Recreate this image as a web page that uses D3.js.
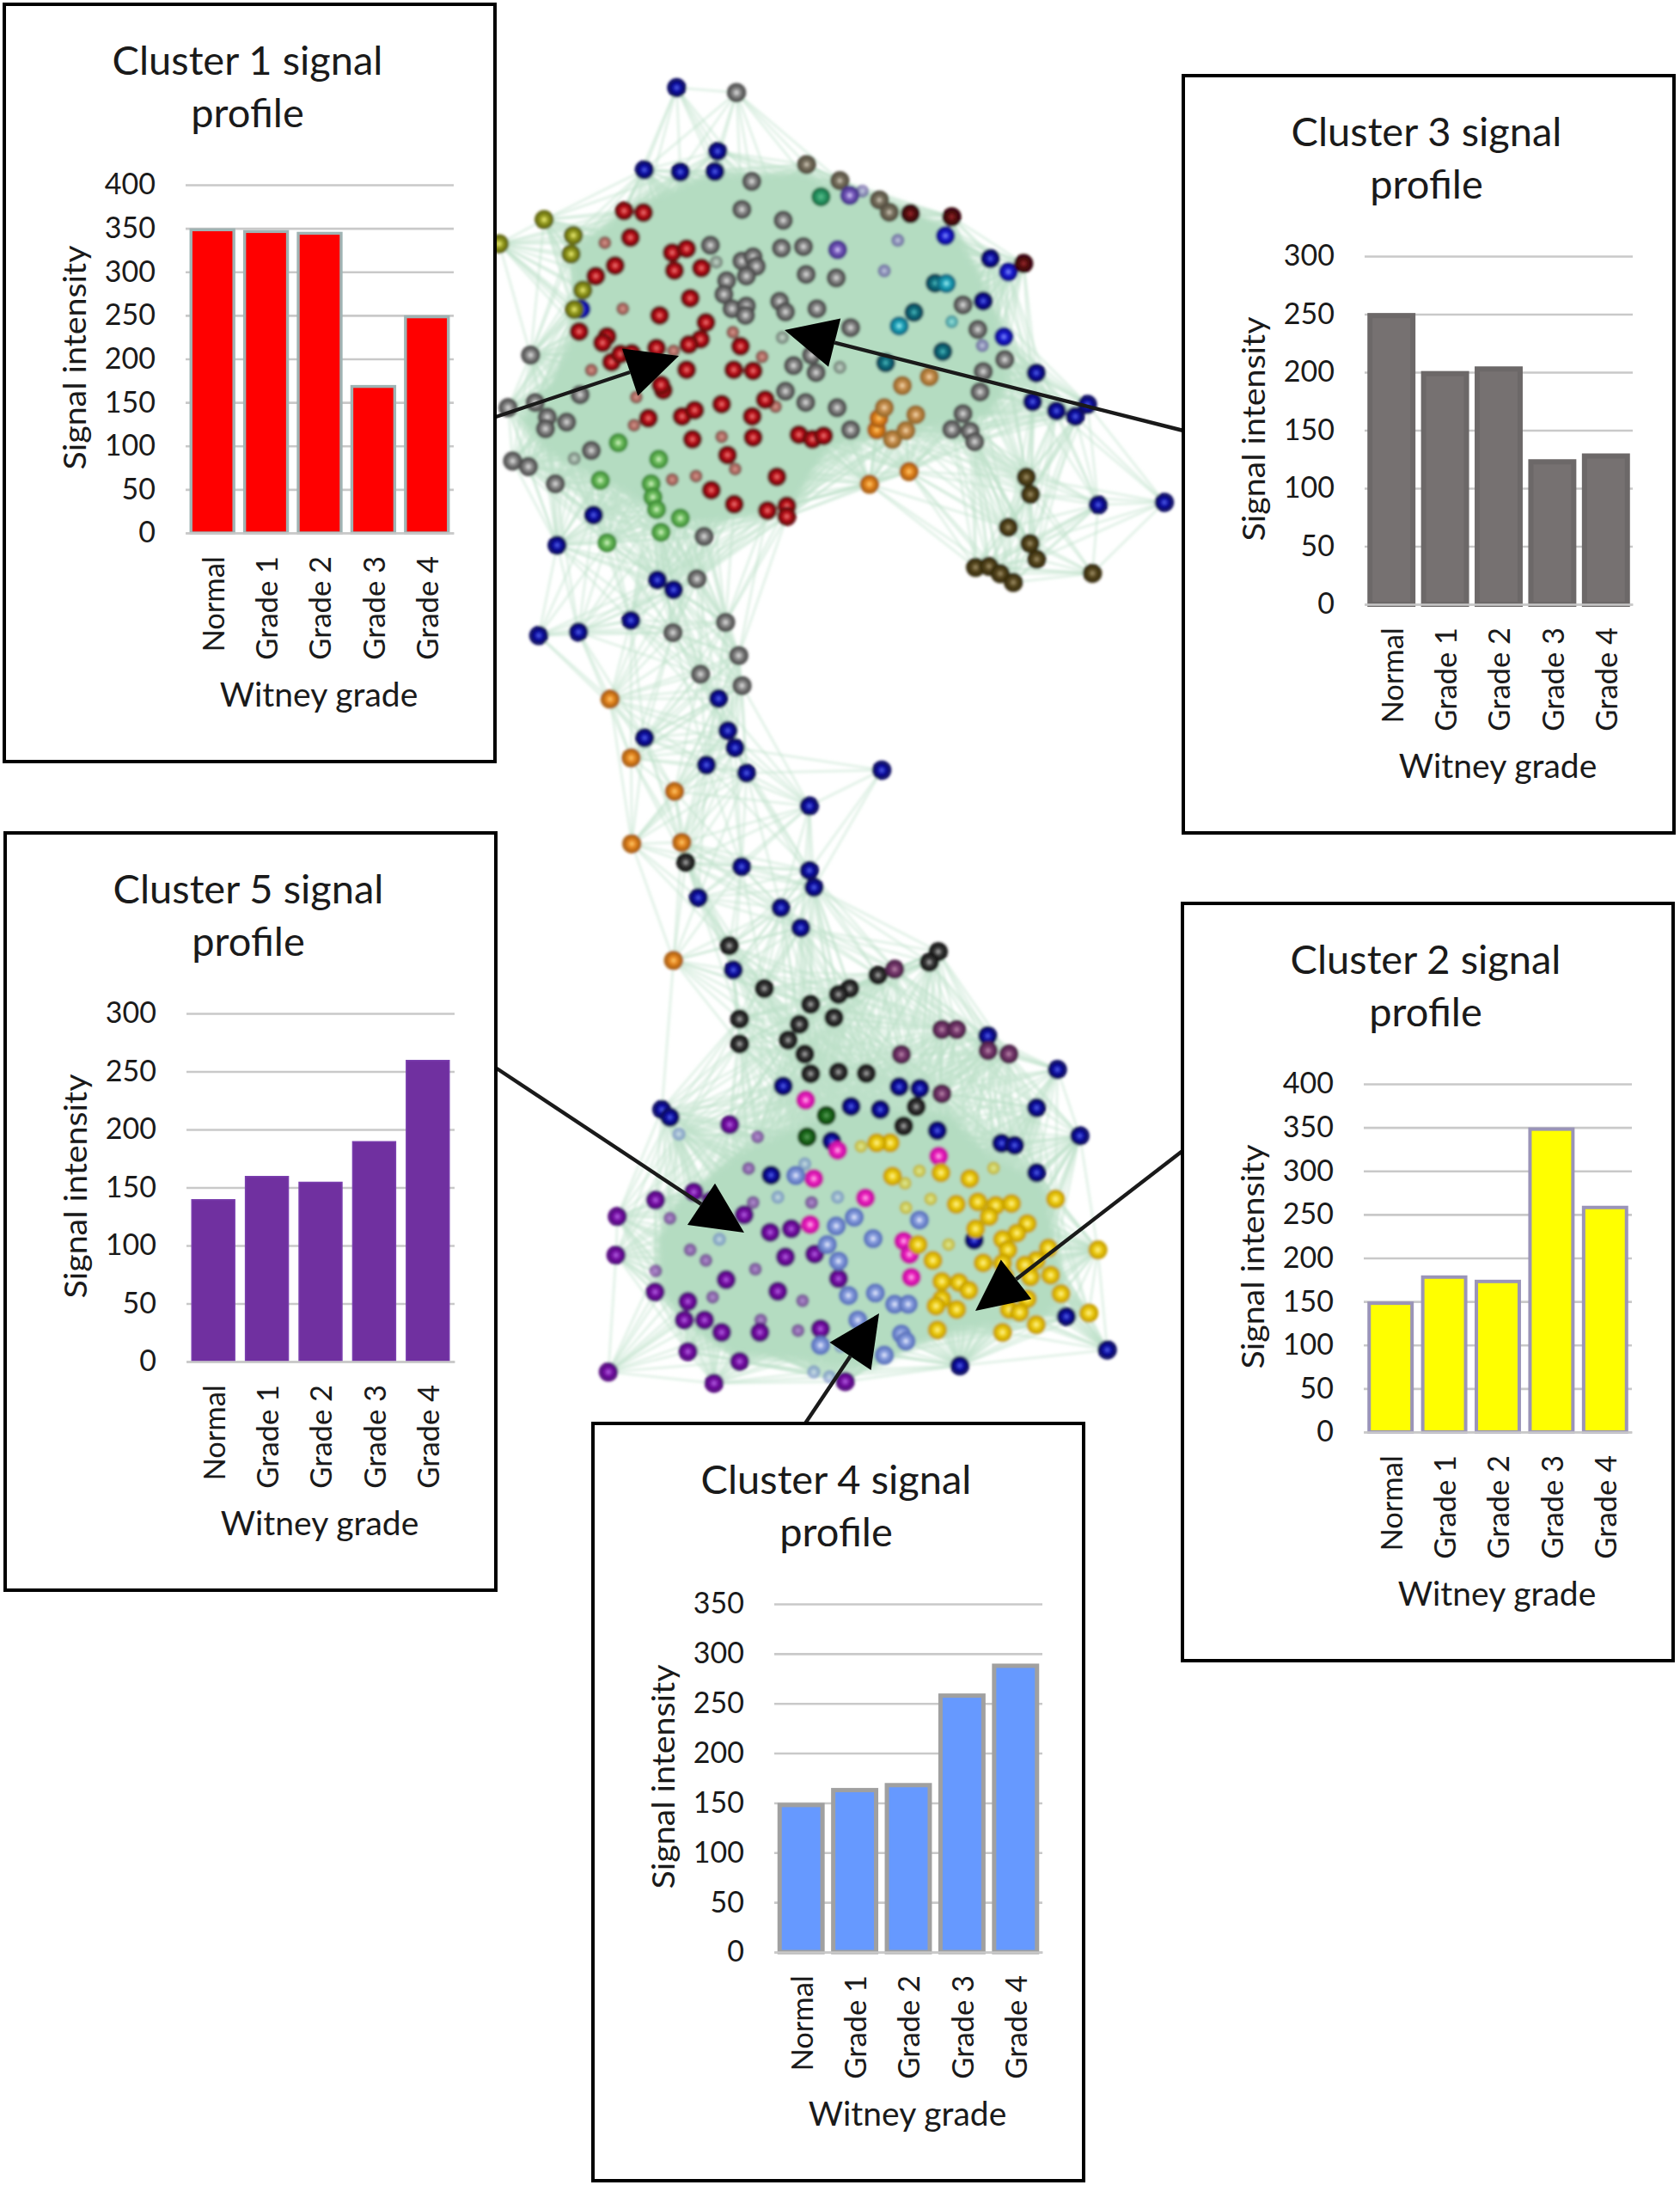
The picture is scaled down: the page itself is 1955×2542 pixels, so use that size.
<!DOCTYPE html>
<html>
<head>
<meta charset="utf-8">
<script src="https://cdn.jsdelivr.net/npm/d3@7"></script>
<style>
  body { margin: 0; background: #fff; }
  text { font-family: Lato, "Open Sans", sans-serif; fill: #1a1a1a; }
</style>
</head>
<body>
<div id="fig"></div>
<script>
// ---- bar chart values
var grades = ["Normal", "Grade 1", "Grade 2", "Grade 3", "Grade 4"];
var cluster1 = [350, 348, 346, 170, 250];
var cluster2 = [150, 180, 175, 350, 260];
var cluster3 = [251, 201, 205, 125, 130];
var cluster4 = [150, 165, 170, 260, 290];
var cluster5 = [140, 160, 155, 190, 260];
var ticks300 = [0, 50, 100, 150, 200, 250, 300];
var ticks350 = [0, 50, 100, 150, 200, 250, 300, 350];
var ticks400 = [0, 50, 100, 150, 200, 250, 300, 350, 400];

// ---- network nodes, in layout units of each part of the network
var upperNavy = [[435,103],[363,337],[443,343],[520,342],[526,284],[1133,590],[1117,711],[1235,916],[1227,998],[1280,1024],[1322,1040],[1349,1006],[1373,1292],[1520,1285],[250,1321],[169,1407],[392,1506],[428,1534]];
var upperBlue = [[222,734],[1033,525],[1173,628],[1163,813]];
var upperGray = [[568,117],[602,370],[580,450],[672,481],[510,552],[668,560],[717,556],[580,597],[605,585],[612,612],[590,640],[546,653],[723,635],[790,645],[540,692],[558,733],[590,725],[588,752],[664,712],[677,742],[747,733],[822,787],[735,865],[695,895],[745,915],[677,968],[722,1000],[792,1015],[822,1078],[1072,722],[1105,792],[1165,878],[1117,912],[1110,970],[1072,1032],[1047,1077],[1088,1082],[1098,1112],[110,865],[220,978],[120,1000],[60,1015],[147,1042],[143,1075],[190,1056],[245,1137],[70,1167],[105,1183],[165,1232],[496,1382],[480,1503]];
var upperGrayFaint = [[523,600],[670,815],[798,900],[207,1160]];
var upperTaupe = [[724,322],[798,368],[886,423],[908,458]];
var upperMaroon = [[1047,471],[1207,604],[955,462]];
var upperLilac = [[820,410],[793,565]];
var upperLilacFaint = [[927,538],[897,625],[848,398],[1115,838]];
var upperGreen = [[756,414]];
var upperOlive = [[140,479],[40,548],[205,524],[200,577],[226,680],[207,735]];
var upperTeal = [[1010,660],[963,743],[900,887],[1027,855]];
var upperCyan = [[1035,661],[930,782]];
var upperCyanFaint = [[1047,770]];
var upperRed = [[318,454],[361,459],[332,530],[425,573],[457,562],[298,610],[255,640],[430,624],[490,617],[465,703],[397,752],[500,772],[218,798],[280,812],[270,830],[390,845],[488,820],[462,835],[290,885],[310,862],[335,860],[457,907],[577,840],[562,907],[605,910],[405,965],[400,950],[372,1045],[447,1040],[475,1022],[535,1005],[632,992],[603,1040],[470,1105],[605,1100],[707,1092],[737,1105],[762,1095],[548,1150],[658,1212],[512,1250],[563,1290],[637,1308],[680,1295],[680,1325]];
var upperRedFaint = [[275,545],[428,853],[655,1012],[535,1098],[560,800],[625,870],[565,1190],[340,1065],[345,985],[245,908],[315,733],[478,1210],[425,1220]];
var upperOrange = [[864,1233],[952,1197],[880,1078],[885,1045]];
var upperTan = [[897,1015],[937,952],[997,927],[915,1105],[945,1080],[967,1035]];
var upperLightGreen = [[305,1115],[395,1162],[265,1222],[378,1232],[382,1270],[390,1305],[443,1330],[400,1370],[280,1400]];
var upperBrown = [[1213,1213],[1222,1262],[1173,1356],[1221,1402],[1236,1447],[1100,1470],[1130,1467],[1155,1488],[1184,1513],[1360,1487]];

var neckNavy = [[455,245],[296,286],[175,298],[722,518],[497,655],[750,630],[772,690],[685,750],[807,778],[998,893],[1218,768],[792,1105],[998,1118],[1012,1177],[660,1213]];
var neckGray = [[743,252],[583,288],[783,368],[667,433],[793,473]];
var neckOrange = [[392,520],[456,725],[588,842],[458,1025],[610,1020]];
var neckDark = [[622,1090]];

var lowerNavy = [[667,15],[711,72],[561,192],[672,523],[930,525],[976,530],[823,581],[888,590],[1015,650],[1282,476],[1236,585],[1332,665],[1158,686],[1187,692],[1236,770],[645,777],[402,590],[420,612],[780,680],[1127,380],[1097,962],[1302,1180],[1393,1275],[1065,1320]];
var lowerDark = [[552,123],[630,245],[1017,140],[997,170],[883,207],[820,245],[795,262],[733,290],[785,328],[708,347],[575,332],[683,392],[575,403],[733,488],[795,483],[857,487],[968,582],[940,637],[720,432]];
var lowerGreen = [[768,607],[725,668]];
var lowerPlum = [[920,190],[1025,362],[1058,362],[1128,422],[1174,432],[935,433],[1025,545]];
var lowerOrange = [[428,165]];
var lowerMagenta = [[722,563],[793,706],[1018,723],[740,787],[855,842],[732,918],[940,965],[953,1003],[957,1068]];
var lowerYellow = [[910,685],[880,685],[915,780],[1023,770],[1087,787],[1278,845],[1057,860],[1105,853],[1145,863],[1180,858],[1215,915],[1192,942],[1130,895],[1100,930],[1160,960],[1172,990],[1372,990],[1262,985],[1235,1020],[1210,1033],[1160,1028],[1117,1027],[1005,1020],[972,975],[1165,1065],[1222,1067],[1267,1062],[1290,1115],[1215,1130],[1025,1080],[1063,1083],[1085,1105],[1025,1130],[1012,1150],[1058,1160],[1175,1160],[1198,1168],[1235,1203],[1352,1170],[1160,1225],[1015,1218]];
var lowerYellowFaint = [[845,695],[943,800],[1140,757],[975,765],[945,870],[1000,845],[1040,975]];
var lowerPurple = [[388,848],[473,825],[512,850],[303,895],[300,1005],[553,633],[585,890],[643,940],[690,930],[677,1010],[742,1002],[387,1110],[545,1075],[795,1072],[660,1108],[460,1137],[452,1190],[497,1190],[535,1225],[620,1225],[755,1215],[460,1280],[575,1308],[283,1338],[518,1370],[810,1365]];
var lowerPurpleFaint = [[615,668],[595,758],[388,1050],[500,1020],[622,1190],[610,1045],[705,1220],[715,1135],[515,1125],[735,855],[605,855],[420,900],[465,990]];
var lowerPeri = [[700,778],[830,897],[790,922],[975,905],[872,958],[770,975],[795,1022],[817,1120],[877,1113],[920,1145],[950,1145],[838,1190],[935,1230],[945,1250],[755,1262],[897,1290]];
var lowerPeriFaint = [[720,745],[793,840],[740,1338],[775,1352],[800,1265],[440,660],[530,960],[660,840]];

// dense part of the two lobes
var upperCore = [[200,560],[330,440],[500,350],[700,340],[900,420],[1050,500],[1100,600],[1150,750],[1180,950],[1130,1040],[950,1080],[780,1130],[730,1220],[690,1300],[540,1340],[430,1340],[300,1240],[150,1150],[80,1050],[150,950],[210,800]];
var lowerCore = [[430,860],[560,720],[700,640],[820,590],[1040,600],[1130,720],[1250,800],[1280,980],[1300,1100],[1260,1180],[1050,1220],[970,1260],[870,1330],[740,1310],[560,1290],[470,1220],[400,1110],[390,960]];

// arrows, tail then tip
var arrow1 = [[577,485],[790,414]];
var arrow2 = [[1376,1339],[1135,1525]];
var arrow3 = [[1377,501],[913,384]];
var arrow4 = [[937,1656],[1023,1528]];
var arrow5 = [[578,1243],[866,1434]];

var width = 1955, height = 2542;
var svg = d3.select("#fig").append("svg")
    .attr("width", width).attr("height", height)
    .style("display", "block");
var defs = svg.append("defs");

defs.append("filter").attr("id", "soft").attr("x", "-5%").attr("y", "-5%").attr("width", "110%").attr("height", "110%")
  .append("feGaussianBlur").attr("stdDeviation", 1.4);
defs.append("filter").attr("id", "softer").attr("x", "-10%").attr("y", "-10%").attr("width", "120%").attr("height", "120%")
  .append("feGaussianBlur").attr("stdDeviation", 4);

// sphere colours: core, body, rim
var spheres = {
  navy: ["#5a6af0", "#0c0ca8", "#060658"],
  blue: ["#8a9aff", "#1a1ad8", "#0c0c88"],
  gray: ["#e8e8e8", "#8e8e8e", "#4a4a4a"],
  dark: ["#b8b8b8", "#3a3a3a", "#141414"],
  taupe: ["#d8d0c0", "#7a7260", "#544e40"],
  maroon: ["#a03030", "#5a0a10", "#320408"],
  lilac: ["#e0d8ff", "#7a5cc0", "#46328a"],
  green: ["#60c090", "#2e9e6a", "#187046"],
  olive: ["#f4f480", "#9aa020", "#5e640c"],
  teal: ["#50c0c0", "#0f6f80", "#084656"],
  cyan: ["#a8f4f4", "#20a8c0", "#0c6e84"],
  red: ["#f08080", "#c01018", "#62080c"],
  orange: ["#ffd070", "#e88820", "#a85c10"],
  tan: ["#f8e0b8", "#c89050", "#966828"],
  lightgreen: ["#e0fad0", "#70c060", "#3e8e36"],
  brown: ["#a89870", "#5a4a20", "#342a0c"],
  dkgreen: ["#60a060", "#1f6f1f", "#0c440c"],
  plum: ["#c090b0", "#7a3a70", "#4c2048"],
  magenta: ["#ffc0f4", "#f020c0", "#c010a0"],
  yellow: ["#fff7a0", "#f0d010", "#c8a000"],
  purple: ["#b868e8", "#7a10a8", "#4e0678"],
  peri: ["#f2f4ff", "#8aa0e0", "#5a72bc"]
};
Object.keys(spheres).forEach(function(k) {
  var g = defs.append("radialGradient").attr("id", "sph-" + k);
  g.append("stop").attr("offset", "0%").attr("stop-color", spheres[k][0]);
  g.append("stop").attr("offset", "36%").attr("stop-color", spheres[k][1]);
  g.append("stop").attr("offset", "84%").attr("stop-color", spheres[k][2]);
  g.append("stop").attr("offset", "100%").attr("stop-color", spheres[k][2]).attr("stop-opacity", 0.6);
});

// ---- network
var upperX = d3.scaleLinear([0, 1568], [560, 1380]), upperY = d3.scaleLinear([0, 1568], [60, 700]);
var neckX = d3.scaleLinear([0, 1568], [560, 1160]), neckY = d3.scaleLinear([0, 1500], [640, 1140]);
var lowerX = d3.scaleLinear([0, 1568], [560, 1380]), lowerY = d3.scaleLinear([0, 1568], [1050, 1690]);

var nodeTable = [
  [upperNavy, "navy", 0], [upperBlue, "blue", 0], [upperGray, "gray", 0], [upperGrayFaint, "gray", 1],
  [upperTaupe, "taupe", 0], [upperMaroon, "maroon", 0], [upperLilac, "lilac", 0], [upperLilacFaint, "lilac", 1],
  [upperGreen, "green", 0], [upperOlive, "olive", 0], [upperTeal, "teal", 0], [upperCyan, "cyan", 0],
  [upperCyanFaint, "cyan", 1], [upperRed, "red", 0], [upperRedFaint, "red", 1], [upperOrange, "orange", 0],
  [upperTan, "tan", 0], [upperLightGreen, "lightgreen", 0], [upperBrown, "brown", 0]
].map(function(d) { return {pts: d[0], col: d[1], faint: d[2], sx: upperX, sy: upperY}; })
.concat([
  [neckNavy, "navy", 0], [neckGray, "gray", 0], [neckOrange, "orange", 0], [neckDark, "dark", 0]
].map(function(d) { return {pts: d[0], col: d[1], faint: d[2], sx: neckX, sy: neckY}; }))
.concat([
  [lowerNavy, "navy", 0], [lowerDark, "dark", 0], [lowerGreen, "dkgreen", 0], [lowerPlum, "plum", 0],
  [lowerOrange, "orange", 0], [lowerMagenta, "magenta", 0], [lowerYellow, "yellow", 0], [lowerYellowFaint, "yellow", 1],
  [lowerPurple, "purple", 0], [lowerPurpleFaint, "purple", 1], [lowerPeri, "peri", 0], [lowerPeriFaint, "peri", 1]
].map(function(d) { return {pts: d[0], col: d[1], faint: d[2], sx: lowerX, sy: lowerY}; }));

var nodes = [];
nodeTable.forEach(function(t) {
  t.pts.forEach(function(p) {
    nodes.push({x: t.sx(p[0]), y: t.sy(p[1]), col: t.col, faint: t.faint});
  });
});

// links join every pair of nodes that lie close together
var links = [];
for (var i = 0; i < nodes.length; i++) {
  for (var j = i + 1; j < nodes.length; j++) {
    if (Math.hypot(nodes[i].x - nodes[j].x, nodes[i].y - nodes[j].y) < 175) links.push([nodes[i], nodes[j]]);
  }
}

var net = svg.append("g").attr("filter", "url(#soft)");
var core = d3.line().curve(d3.curveLinearClosed);

net.append("g").selectAll("line").data(links).join("line")
    .attr("x1", function(d) { return d[0].x; }).attr("y1", function(d) { return d[0].y; })
    .attr("x2", function(d) { return d[1].x; }).attr("y2", function(d) { return d[1].y; })
    .attr("stroke", "#bcdfc8").attr("stroke-width", 3).attr("stroke-opacity", 0.42);

net.append("path").attr("filter", "url(#softer)")
    .attr("d", core(upperCore.map(function(p) { return [upperX(p[0]), upperY(p[1])]; })))
    .attr("fill", "#b4dcc1");
net.append("path").attr("filter", "url(#softer)")
    .attr("d", core(lowerCore.map(function(p) { return [lowerX(p[0]), lowerY(p[1])]; })))
    .attr("fill", "#b4dcc1");

net.append("g").selectAll("circle").data(nodes.filter(function(d) { return d.faint; })).join("circle")
    .attr("cx", function(d) { return d.x; }).attr("cy", function(d) { return d.y; })
    .attr("r", 8).attr("fill", function(d) { return "url(#sph-" + d.col + ")"; })
    .attr("opacity", 0.55);
net.append("g").selectAll("circle").data(nodes.filter(function(d) { return !d.faint; })).join("circle")
    .attr("cx", function(d) { return d.x; }).attr("cy", function(d) { return d.y; })
    .attr("r", 11.5).attr("fill", function(d) { return "url(#sph-" + d.col + ")"; });

// ---- arrows
function drawArrow(a) {
  var dx = a[1][0] - a[0][0], dy = a[1][1] - a[0][1], len = Math.hypot(dx, dy);
  var ux = dx / len, uy = dy / len, hl = 60, hw = 29;
  var bx = a[1][0] - ux * hl, by = a[1][1] - uy * hl;
  svg.append("line")
      .attr("x1", a[0][0]).attr("y1", a[0][1]).attr("x2", bx).attr("y2", by)
      .attr("stroke", "#1a1a1a").attr("stroke-width", 4.4);
  svg.append("path")
      .attr("d", core([a[1], [bx - uy * hw, by + ux * hw], [bx + uy * hw, by - ux * hw]]))
      .attr("fill", "#000");
}
[arrow1, arrow2, arrow3, arrow4, arrow5].forEach(drawArrow);

// ---- the five bar chart panels
var boxW = 571, boxH = 881;

function panel(px, py, name, values, tickVals, fill, edge, edgeW) {
  var g = svg.append("g").attr("transform", "translate(" + px + "," + py + ")");

  g.append("rect").attr("width", boxW).attr("height", boxH)
      .attr("fill", "#fff").attr("stroke", "#000").attr("stroke-width", 4);

  g.append("text").attr("x", 283).attr("y", 81.5).attr("text-anchor", "middle")
      .attr("font-size", 47).text(name + " signal");
  g.append("text").attr("x", 283).attr("y", 142.5).attr("text-anchor", "middle")
      .attr("font-size", 47).text("profile");

  var x = d3.scaleBand().domain(grades).range([211, 523]).paddingInner(0.2).paddingOuter(0.1);
  var y = d3.scaleLinear().domain([0, d3.max(tickVals)]).range([615, 210]);

  var yAxis = g.append("g").attr("transform", "translate(211,0)")
      .call(d3.axisLeft(y).tickValues(tickVals).tickSize(-312).tickPadding(35));
  yAxis.select(".domain").remove();
  yAxis.selectAll("line").attr("stroke", "#c9c9c9").attr("stroke-width", 2.6);
  yAxis.selectAll("text").attr("font-size", 34).attr("font-family", "Lato");

  // the outer edge of the outline sits on the value
  g.selectAll("rect.bar").data(values).join("rect").attr("class", "bar")
      .attr("x", function(d, i) { return x(grades[i]); })
      .attr("y", function(d) { return y(d) + edgeW / 2; })
      .attr("width", x.bandwidth())
      .attr("height", function(d) { return y(0) - y(d) - edgeW / 2; })
      .attr("fill", fill).attr("stroke", edge).attr("stroke-width", edgeW);

  var xAxis = g.append("g").attr("transform", "translate(0,615)")
      .call(d3.axisBottom(x).tickSize(0));
  xAxis.select(".domain").attr("stroke", "#c9c9c9").attr("stroke-width", 2.6);
  xAxis.selectAll("text")
      .attr("transform", "rotate(-90)")
      .attr("x", -27).attr("y", 1).attr("dy", "0.36em")
      .attr("text-anchor", "end")
      .attr("font-size", 34.5).attr("font-family", "Lato");

  g.append("text")
      .attr("transform", "translate(83,411) rotate(-90)")
      .attr("text-anchor", "middle").attr("dy", "0.33em")
      .attr("font-size", 36).attr("textLength", 261).attr("lengthAdjust", "spacingAndGlyphs")
      .text("Signal intensity");

  g.append("text").attr("x", 366).attr("y", 817).attr("text-anchor", "middle")
      .attr("font-size", 39).text("Witney grade");
}

panel(5, 5, "Cluster 1", cluster1, ticks400, "#ff0000", "#9fb3b3", 3.4);
panel(1377, 88, "Cluster 3", cluster3, ticks300, "#767171", "#6c6868", 6);
panel(6, 969, "Cluster 5", cluster5, ticks300, "#7030a0", "#7a3fae", 1.5);
panel(1376, 1051, "Cluster 2", cluster2, ticks400, "#ffff00", "#9a94b8", 4);
panel(690, 1656, "Cluster 4", cluster4, ticks350, "#6699ff", "#a0a0a0", 5);
</script>
</body>
</html>
